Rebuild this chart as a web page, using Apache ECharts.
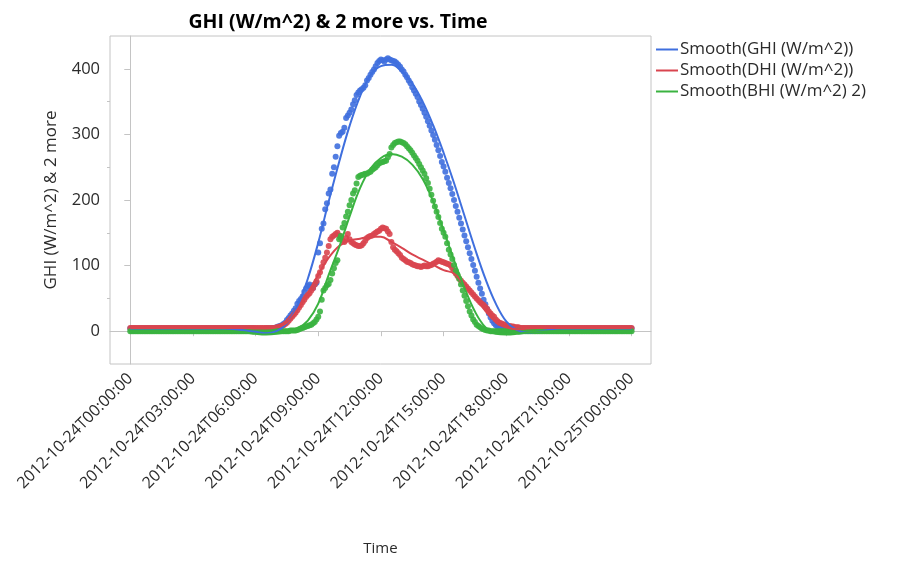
<!DOCTYPE html>
<html>
<head>
<meta charset="utf-8">
<script src="https://cdn.jsdelivr.net/npm/echarts@6/dist/echarts.min.js"></script>
<style>
  html, body { margin: 0; padding: 0; background: #ffffff; }
  #chart { width: 897px; height: 562px; }
</style>
</head>
<body>
<div id="chart"></div>
<script>
// Irradiance samples for 2012-10-24, one value every 5 minutes (00:00 .. 24:00),
// one row per hour
const ghiDots = [
  4, 4, 4, 4, 4, 4, 4, 4, 4, 4, 4, 4,
  4, 4, 4, 4, 4, 4, 4, 4, 4, 4, 4, 4,
  4, 4, 4, 4, 4, 4, 4, 4, 4, 4, 4, 4,
  4, 4, 4, 4, 4, 4, 4, 4, 4, 4, 4, 4,
  4, 4, 4, 4, 4, 4, 4, 4, 4, 4, 4, 4,
  4, 4, 4, 4, 4, 4, 4, 4, 4, 4, 4, 4,
  3, 3, 3, 3, 3, 3, 4, 4, 4, 4, 5, 5,
  6, 7, 8, 9, 11, 13, 17, 20, 24, 27, 31, 35,
  42, 46, 49, 53, 60, 65, 69, 71, 68, 66, 71, 74,
  120, 134, 156, 164, 186, 195, 210, 216, 240, 250, 266, 282,
  298, 302, 304, 310, 325, 329, 333, 338, 346, 352, 360, 364,
  367, 369, 371, 375, 382, 386, 391, 395, 399, 404, 409, 412,
  414, 413, 411, 414, 416, 414, 413, 412, 411, 409, 406, 403,
  399, 396, 391, 387, 382, 378, 372, 367, 362, 357, 350, 345,
  339, 333, 327, 320, 313, 306, 299, 292, 284, 276, 267, 258,
  251, 243, 234, 226, 218, 209, 200, 191, 182, 173, 164, 155,
  146, 137, 128, 119, 110, 101, 92, 83, 74, 65, 57, 48,
  41, 34, 27, 21, 16, 12, 9, 7, 5, 5, 4, 4,
  4, 4, 4, 4, 4, 4, 4, 4, 4, 4, 4, 4,
  4, 4, 4, 4, 4, 4, 4, 4, 4, 4, 4, 4,
  4, 4, 4, 4, 4, 4, 4, 4, 4, 4, 4, 4,
  4, 4, 4, 4, 4, 4, 4, 4, 4, 4, 4, 4,
  4, 4, 4, 4, 4, 4, 4, 4, 4, 4, 4, 4,
  4, 4, 4, 4, 4, 4, 4, 4, 4, 4, 4, 4,
  4
];
const dhiDots = [
  5, 5, 5, 5, 5, 5, 5, 5, 5, 5, 5, 5,
  5, 5, 5, 5, 5, 5, 5, 5, 5, 5, 5, 5,
  5, 5, 5, 5, 5, 5, 5, 5, 5, 5, 5, 5,
  5, 5, 5, 5, 5, 5, 5, 5, 5, 5, 5, 5,
  5, 5, 5, 5, 5, 5, 5, 5, 5, 5, 5, 5,
  5, 5, 5, 5, 5, 5, 5, 5, 5, 5, 5, 5,
  5, 5, 5, 5, 5, 5, 5, 5, 5, 5, 5, 5,
  6, 6, 7, 8, 9, 11, 13, 16, 19, 22, 25, 28,
  32, 36, 40, 44, 48, 52, 55, 58, 62, 66, 71, 76,
  84, 90, 98, 105, 112, 120, 130, 140, 144, 146, 148, 150,
  146, 142, 138, 136, 142, 148, 140, 136, 134, 132, 131, 130,
  130, 131, 134, 138, 142, 144, 145, 146, 148, 150, 152, 153,
  156, 158, 157, 156, 152, 148, 136, 128, 124, 122, 119, 116,
  112, 110, 108, 106, 105, 104, 102, 101, 100, 99, 99, 98,
  99, 100, 99, 99, 100, 101, 103, 104, 106, 108, 107, 106,
  105, 104, 103, 102, 100, 96, 92, 88, 84, 80, 77, 74,
  71, 68, 65, 62, 59, 56, 53, 50, 47, 44, 42, 40,
  37, 34, 30, 27, 24, 22, 18, 15, 13, 12, 11, 10,
  9, 8, 8, 7, 7, 6, 6, 6, 5, 5, 5, 5,
  5, 5, 5, 5, 5, 5, 5, 5, 5, 5, 5, 5,
  5, 5, 5, 5, 5, 5, 5, 5, 5, 5, 5, 5,
  5, 5, 5, 5, 5, 5, 5, 5, 5, 5, 5, 5,
  5, 5, 5, 5, 5, 5, 5, 5, 5, 5, 5, 5,
  5, 5, 5, 5, 5, 5, 5, 5, 5, 5, 5, 5,
  5
];
const bhiDots = [
  0, 0, 0, 0, 0, 0, 0, 0, 0, 0, 0, 0,
  0, 0, 0, 0, 0, 0, 0, 0, 0, 0, 0, 0,
  0, 0, 0, 0, 0, 0, 0, 0, 0, 0, 0, 0,
  0, 0, 0, 0, 0, 0, 0, 0, 0, 0, 0, 0,
  0, 0, 0, 0, 0, 0, 0, 0, 0, 0, 0, 0,
  0, 0, 0, 0, 0, 0, 0, 0, 0, 0, 0, 0,
  0, 0, 0, 0, 0, 0, 0, 0, 0, 0, 0, 0,
  0, 0, 0, 0, 0, 0, 0, 0, 1, 1, 1, 1,
  2, 3, 4, 5, 6, 7, 8, 9, 10, 12, 14, 18,
  22, 30, 48, 62, 66, 70, 72, 78, 88, 96, 104, 108,
  140, 145, 158, 165, 175, 182, 192, 200, 210, 215, 225, 235,
  237, 238, 239, 240, 240, 242, 243, 246, 248, 250, 253, 256,
  257, 258, 259, 260, 265, 270, 280, 284, 287, 288, 289, 289,
  288, 287, 285, 282, 279, 276, 272, 268, 264, 260, 255, 250,
  245, 240, 233, 226, 217, 208, 199, 190, 182, 174, 165, 156,
  150, 144, 134, 124, 117, 110, 101, 92, 86, 80, 71, 62,
  54, 46, 38, 30, 24, 18, 14, 10, 8, 6, 4, 3,
  2, 1, 1, 0, 0, 0, 0, 0, 0, 0, 0, 0,
  0, 0, 0, 0, 0, 0, 0, 0, 0, 0, 0, 0,
  0, 0, 0, 0, 0, 0, 0, 0, 0, 0, 0, 0,
  0, 0, 0, 0, 0, 0, 0, 0, 0, 0, 0, 0,
  0, 0, 0, 0, 0, 0, 0, 0, 0, 0, 0, 0,
  0, 0, 0, 0, 0, 0, 0, 0, 0, 0, 0, 0,
  0, 0, 0, 0, 0, 0, 0, 0, 0, 0, 0, 0,
  0
];

// Smoothed curves, one value every 30 minutes (00:00 .. 24:00)
const ghiSmooth = [
  4, 4, 4, 4, 4, 4, 4, 4,
  4, 4, 3, 1, -1, -3, 0, 12,
  38, 80, 135, 198, 258, 313, 358, 390,
  404, 406, 396, 378, 350, 314, 272, 226,
  176, 126, 80, 42, 15, 2, -2, -1,
  2, 4, 4, 4, 4, 4, 4, 4,
  4
];
const dhiSmooth = [
  5, 5, 5, 5, 5, 5, 5, 5,
  5, 5, 5, 5, 4, 4, 6, 13,
  33, 58, 86, 112, 130, 138, 141, 144,
  144, 136, 127, 117, 109, 101, 93, 88,
  70, 52, 31, 14, 6, 3, 4, 5,
  5, 5, 5, 5, 5, 5, 5, 5,
  5
];
const bhiSmooth = [
  0, 0, 0, 0, 0, 0, 0, 0,
  0, 0, -1, -2, -4, -5, -4, -1,
  4, 16, 42, 86, 128, 175, 218, 248,
  264, 270, 266, 254, 232, 198, 154, 108,
  66, 30, 6, -4, -5, -4, -2, -1,
  0, 0, 0, 0, 0, 0, 0, 0,
  0
];

// Axis ticks (hours since 2012-10-24T00:00:00)
const tickHours = [0, 3, 6, 9, 12, 15, 18, 21, 24];
const tickLabels = [
  '2012-10-24T00:00:00', '2012-10-24T03:00:00', '2012-10-24T06:00:00',
  '2012-10-24T09:00:00', '2012-10-24T12:00:00', '2012-10-24T15:00:00',
  '2012-10-24T18:00:00', '2012-10-24T21:00:00', '2012-10-25T00:00:00'
];
const yMajorTicks = [0, 100, 200, 300, 400];
const yMinorTicks = [50, 150, 250, 350];

const pointNames = ['GHI (W/m^2)', 'DHI (W/m^2)', 'BHI (W/m^2) 2'];
const smoothNames = ['Smooth(GHI (W/m^2))', 'Smooth(DHI (W/m^2))', 'Smooth(BHI (W/m^2) 2)'];
const colors = ['#3F6FDE', '#D9454F', '#3AB340'];

const sampleHours = ghiDots.map((_, i) => i / 12);
const smoothHours = ghiSmooth.map((_, i) => i / 2);
const toPairs = (xs, ys) => ys.map((v, i) => [xs[i], v]);

const dotSets = [ghiDots, dhiDots, bhiDots];
const smoothSets = [ghiSmooth, dhiSmooth, bhiSmooth];

const FONT = 'Open Sans';
const TEXT = '#2b2b2b';
const FRAME = '#c4c4c4';

const series = [];
dotSets.forEach((vals, k) => {
  series.push({
    name: pointNames[k],
    type: 'scatter',
    data: toPairs(sampleHours, vals),
    symbolSize: 6,
    itemStyle: { color: colors[k], opacity: 0.9 },
    z: 2,
    silent: true
  });
});
smoothSets.forEach((vals, k) => {
  series.push({
    name: smoothNames[k],
    type: 'line',
    data: toPairs(smoothHours, vals),
    smooth: 0.4,
    symbol: 'none',
    lineStyle: { color: colors[k], width: 2 },
    itemStyle: { color: colors[k] },
    z: 3,
    silent: true
  });
});

const chart = echarts.init(document.getElementById('chart'), null, { renderer: 'canvas' });
chart.setOption({
  animation: false,
  backgroundColor: '#ffffff',
  textStyle: { fontFamily: FONT },
  title: {
    text: 'GHI (W/m^2) & 2 more vs. Time',
    left: 333,
    top: 7,
    textAlign: 'center',
    textStyle: { fontFamily: FONT, fontSize: 19.5, fontWeight: 'bold', color: '#000000' }
  },
  legend: {
    data: smoothNames,
    orient: 'vertical',
    left: 651,
    top: 34,
    icon: 'rect',
    itemWidth: 22,
    itemHeight: 2,
    itemGap: 0,
    textStyle: { fontFamily: FONT, fontSize: 17, lineHeight: 21, color: TEXT, padding: [0, 0, 0, -3] }
  },
  grid: {
    left: 110,
    right: 246,
    top: 36,
    bottom: 198,
    show: true,
    borderColor: FRAME,
    borderWidth: 1,
    outerBoundsMode: 'none'
  },
  xAxis: {
    type: 'value',
    min: -0.97,
    max: 24.93,
    name: 'Time',
    nameLocation: 'middle',
    nameGap: 177,
    nameTextStyle: { fontFamily: FONT, fontSize: 15, color: TEXT },
    axisLine: { show: true, lineStyle: { color: FRAME } },
    axisTick: { show: true, length: 5, lineStyle: { color: FRAME }, customValues: tickHours },
    axisLabel: {
      customValues: tickHours,
      rotate: 45,
      margin: 12,
      fontFamily: FONT,
      fontSize: 16,
      color: TEXT,
      formatter: (v) => tickLabels[tickHours.indexOf(v)]
    },
    splitLine: { show: false }
  },
  yAxis: [
    {
      type: 'value',
      position: 'left',
      min: -50,
      max: 450,
      name: 'GHI (W/m^2) & 2 more',
      nameLocation: 'middle',
      nameGap: 50,
      nameTextStyle: { fontFamily: FONT, fontSize: 17, color: TEXT },
      axisLine: { show: true, lineStyle: { color: FRAME } },
      axisTick: { show: true, length: 6, lineStyle: { color: FRAME }, customValues: yMajorTicks },
      axisLabel: { customValues: yMajorTicks, margin: 10, fontFamily: FONT, fontSize: 16.5, color: TEXT },
      splitLine: { show: false }
    },
    {
      type: 'value',
      position: 'left',
      min: -50,
      max: 450,
      axisLine: { show: false },
      axisTick: { show: true, length: 3, lineStyle: { color: FRAME }, customValues: yMinorTicks },
      axisLabel: { show: false },
      splitLine: { show: false }
    }
  ],
  series: series
});
</script>
</body>
</html>
